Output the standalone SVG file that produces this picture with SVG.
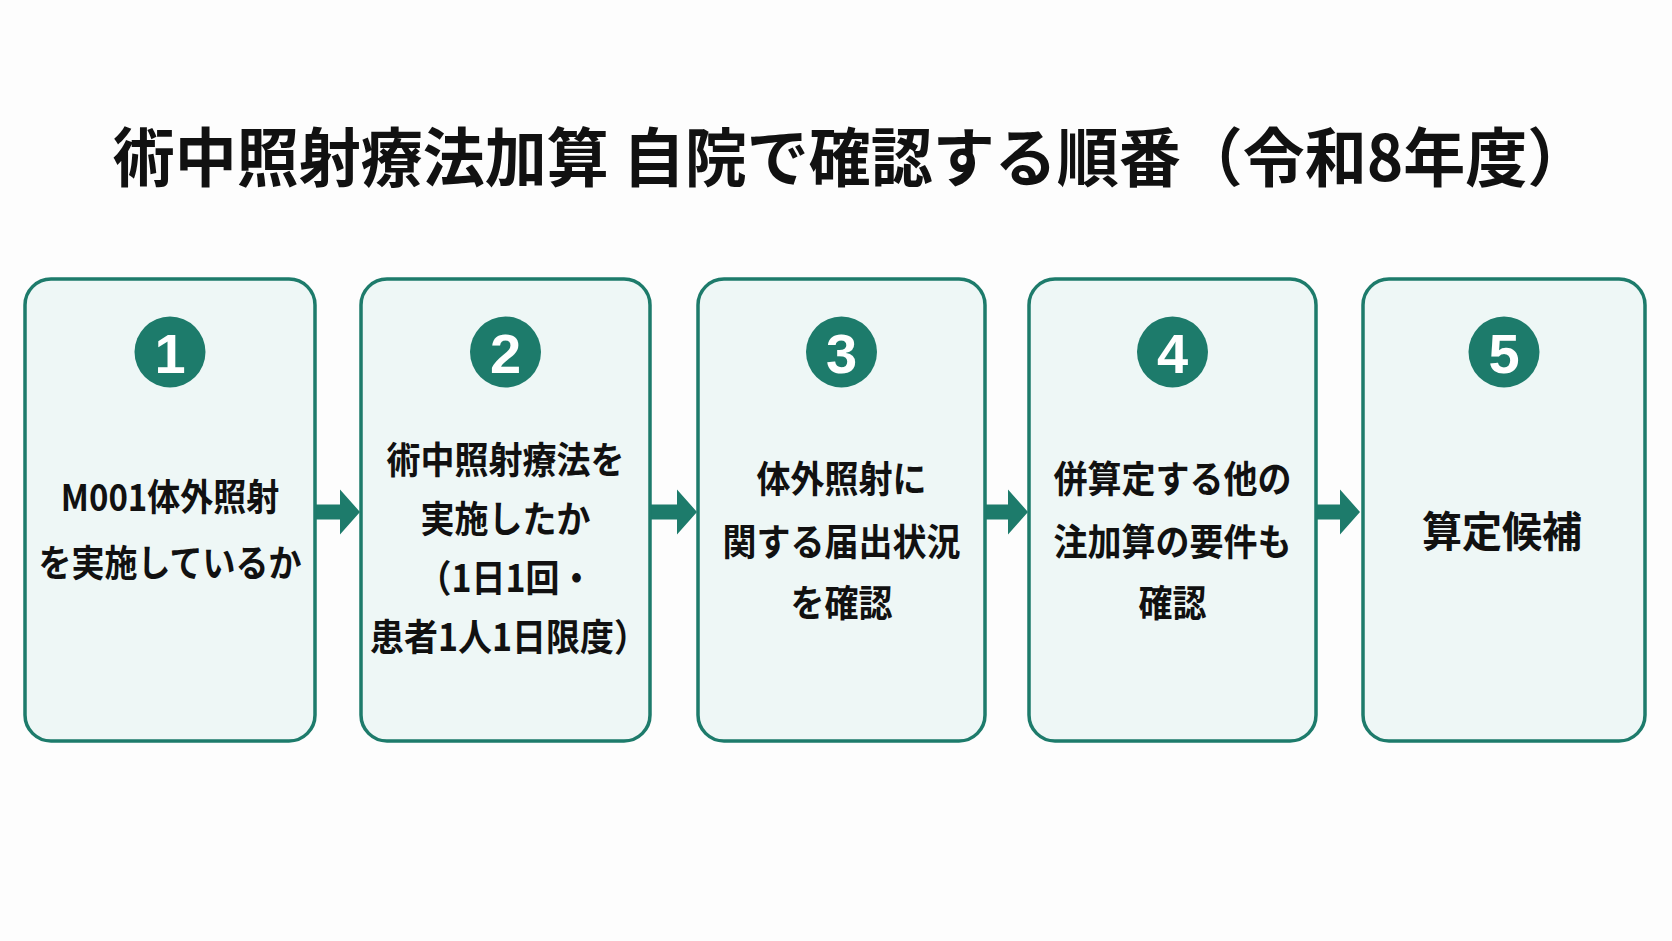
<svg xmlns="http://www.w3.org/2000/svg" width="1672" height="941" viewBox="0 0 1672 941">
<style>
.bg{fill:#fdfdfd}
.box{fill:#eef7f6;stroke:#1d7b6b;stroke-width:3.5}
.num-c{fill:#1d7b6b}
.num{font-family:"Liberation Sans","DejaVu Sans",sans-serif;font-weight:700;font-size:56px;fill:#ffffff;text-anchor:middle}
.t{font-family:"Noto Sans CJK JP","Noto Sans CJK SC",sans-serif;font-weight:700;font-size:34px;fill:#111111;text-anchor:middle;dominant-baseline:central}
.t1{font-size:33px}
.t5{font-size:40px}
.title{font-family:"Noto Sans CJK JP","Noto Sans CJK SC",sans-serif;font-weight:700;font-size:62px;fill:#111111;text-anchor:middle;dominant-baseline:central}
.arrow{fill:#1d7b6b}
</style>
<rect class="bg" x="0" y="0" width="1672" height="941"/>
<g id="title">
<text class="title" transform="translate(851,153) scale(1,1.02)">術中照射療法加算 自院で確認する順番（令和8年度）</text>
</g>
<g id="connectors">
<polygon class="arrow" points="315,504.5 340,504.5 340,489.5 360,512 340,534.5 340,519.5 315,519.5"/>
<polygon class="arrow" points="650,504.5 677,504.5 677,489.5 697,512 677,534.5 677,519.5 650,519.5"/>
<polygon class="arrow" points="985,504.5 1008,504.5 1008,489.5 1028,512 1008,534.5 1008,519.5 985,519.5"/>
<polygon class="arrow" points="1316,504.5 1340,504.5 1340,489.5 1360,512 1340,534.5 1340,519.5 1316,519.5"/>
</g>
<g id="step1">
<rect class="box" x="25" y="279" width="290" height="462" rx="26" ry="26"/>
<circle class="num-c" cx="170" cy="352" r="35.5"/>
<text class="num" x="170" y="373">1</text>
<text class="t t1" transform="translate(170,495) scale(1,1.12)">M001体外照射</text>
<text class="t t1" transform="translate(170,561) scale(1,1.12)">を実施しているか</text>
</g>
<g id="step2">
<rect class="box" x="361" y="279" width="289" height="462" rx="26" ry="26"/>
<circle class="num-c" cx="505.5" cy="352" r="35.5"/>
<text class="num" x="505.5" y="373">2</text>
<text class="t" transform="translate(505.5,458) scale(1,1.1)">術中照射療法を</text>
<text class="t" transform="translate(505.5,517) scale(1,1.1)">実施したか</text>
<text class="t" transform="translate(505.5,576) scale(1,1.1)">（1日1回・</text>
<text class="t" transform="translate(509,635) scale(1,1.1)">患者1人1日限度）</text>
</g>
<g id="step3">
<rect class="box" x="698" y="279" width="287" height="462" rx="26" ry="26"/>
<circle class="num-c" cx="841.5" cy="352" r="35.5"/>
<text class="num" x="841.5" y="373">3</text>
<text class="t" transform="translate(841.5,477) scale(1,1.1)">体外照射に</text>
<text class="t" transform="translate(841.5,540) scale(1,1.1)">関する届出状況</text>
<text class="t" transform="translate(841.5,601) scale(1,1.1)">を確認</text>
</g>
<g id="step4">
<rect class="box" x="1029" y="279" width="287" height="462" rx="26" ry="26"/>
<circle class="num-c" cx="1172.5" cy="352" r="35.5"/>
<text class="num" x="1172.5" y="373">4</text>
<text class="t" transform="translate(1172.5,477) scale(1,1.1)">併算定する他の</text>
<text class="t" transform="translate(1172.5,540) scale(1,1.1)">注加算の要件も</text>
<text class="t" transform="translate(1172.5,601) scale(1,1.1)">確認</text>
</g>
<g id="step5">
<rect class="box" x="1363" y="279" width="282" height="462" rx="26" ry="26"/>
<circle class="num-c" cx="1504" cy="352" r="35.5"/>
<text class="num" x="1504" y="373">5</text>
<text class="t t5" transform="translate(1502,529) scale(1,1.05)">算定候補</text>
</g>
</svg>
